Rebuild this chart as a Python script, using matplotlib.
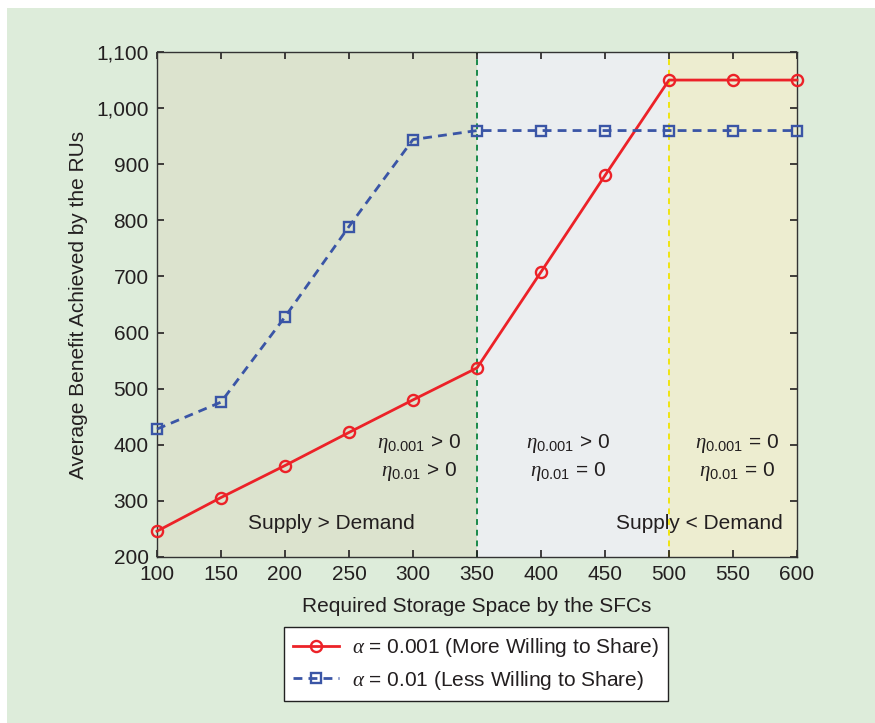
import matplotlib
matplotlib.use("Agg")
import matplotlib.pyplot as plt
from matplotlib.patches import Rectangle
from matplotlib.ticker import FuncFormatter

plt.rcParams['font.family'] = ['Liberation Sans', 'DejaVu Sans']
plt.rcParams['mathtext.fontset'] = 'custom'
plt.rcParams['mathtext.rm'] = 'Liberation Sans'
plt.rcParams['mathtext.it'] = 'Liberation Serif:italic'
plt.rcParams['mathtext.bf'] = 'Liberation Sans:bold'

storage = [100, 150, 200, 250, 300, 350, 400, 450, 500, 550, 600]
benefit_more = [246, 306, 363, 422, 480, 537, 708, 880, 1050, 1050, 1050]
benefit_less = [428, 476, 628, 789, 944, 960, 960, 960, 960, 960, 960]
label_more = r'$\alpha$ = 0.001 (More Willing to Share)'
label_less = r'$\alpha$ = 0.01 (Less Willing to Share)'
region_bounds = [100, 350, 500, 600]
region_colors = ['#dce3ce', '#ebeef0', '#ededd0']

BG = '#ddecda'
tc = '#231f20'
fs = 15

fig = plt.figure(figsize=(8.75, 7.23), dpi=100)
fig.patch.set_facecolor('white')
fig.patches.append(Rectangle((7/875, 0), 1, 1 - 8/723, transform=fig.transFigure,
                             facecolor=BG, edgecolor='none', zorder=-10))

ax = fig.add_axes([157/875, 1 - 557/723, 640/875, 505/723])
for i in range(3):
    ax.axvspan(region_bounds[i], region_bounds[i + 1], color=region_colors[i], zorder=0, lw=0)
ax.axvline(350, color='#1a8a4a', ls=(0, (3, 2.5)), lw=1.4, zorder=1)
ax.axvline(500, color='#f0e410', ls=(0, (3, 2.5)), lw=1.4, zorder=1)

ax.plot(storage, benefit_more, color='#ec2228', lw=2.0, marker='o', ms=8,
        mfc='none', mec='#ec2228', mew=1.7, label=label_more, zorder=3, clip_on=False)
ax.plot(storage, benefit_less, color='#3a55a6', lw=2.0, ls=(0, (3.2, 2.2)), marker='s', ms=7,
        mfc='none', mec='#3a55a6', mew=1.7, label=label_less, zorder=3, clip_on=False)

ax.set_xlim(100, 600)
ax.set_ylim(200, 1100)
ax.set_xticks(storage)
ax.set_yticks(range(200, 1101, 100))
ax.yaxis.set_major_formatter(FuncFormatter(lambda v, p: f'{int(v):,}'))
ax.tick_params(direction='in', length=5, width=1.2, top=True, right=True,
               labelsize=fs, colors=tc, pad=6)
for s in ax.spines.values():
    s.set_color('#333333')
    s.set_linewidth(1.0)
ax.set_xlabel('Required Storage Space by the SFCs', fontsize=fs, color=tc, labelpad=9)
ax.set_ylabel('Average Benefit Achieved by the RUs', fontsize=fs, color=tc, labelpad=6)

ax.text(305, 403, r'$\eta_{0.001}$ > 0', ha='center', va='center', fontsize=fs, color=tc)
ax.text(305, 352, r'$\eta_{0.01}$ > 0', ha='center', va='center', fontsize=fs, color=tc)
ax.text(421, 403, r'$\eta_{0.001}$ > 0', ha='center', va='center', fontsize=fs, color=tc)
ax.text(421, 352, r'$\eta_{0.01}$ = 0', ha='center', va='center', fontsize=fs, color=tc)
ax.text(553, 403, r'$\eta_{0.001}$ = 0', ha='center', va='center', fontsize=fs, color=tc)
ax.text(553, 352, r'$\eta_{0.01}$ = 0', ha='center', va='center', fontsize=fs, color=tc)
ax.text(236, 259, 'Supply > Demand', ha='center', va='center', fontsize=fs, color=tc)
ax.text(524, 259, 'Supply < Demand', ha='center', va='center', fontsize=fs, color=tc)

leg = fig.legend(loc='center', bbox_to_anchor=(476/875, 1 - 664/723), fontsize=fs,
                 frameon=True, fancybox=False, edgecolor='#222222', facecolor='white',
                 framealpha=1, handlelength=2.2, handletextpad=0.6, borderpad=0.45,
                 labelspacing=0.45, borderaxespad=0)
leg.get_frame().set_linewidth(1.0)
for t in leg.get_texts():
    t.set_color(tc)

fig.savefig('out.png', dpi=100, facecolor=fig.get_facecolor())
